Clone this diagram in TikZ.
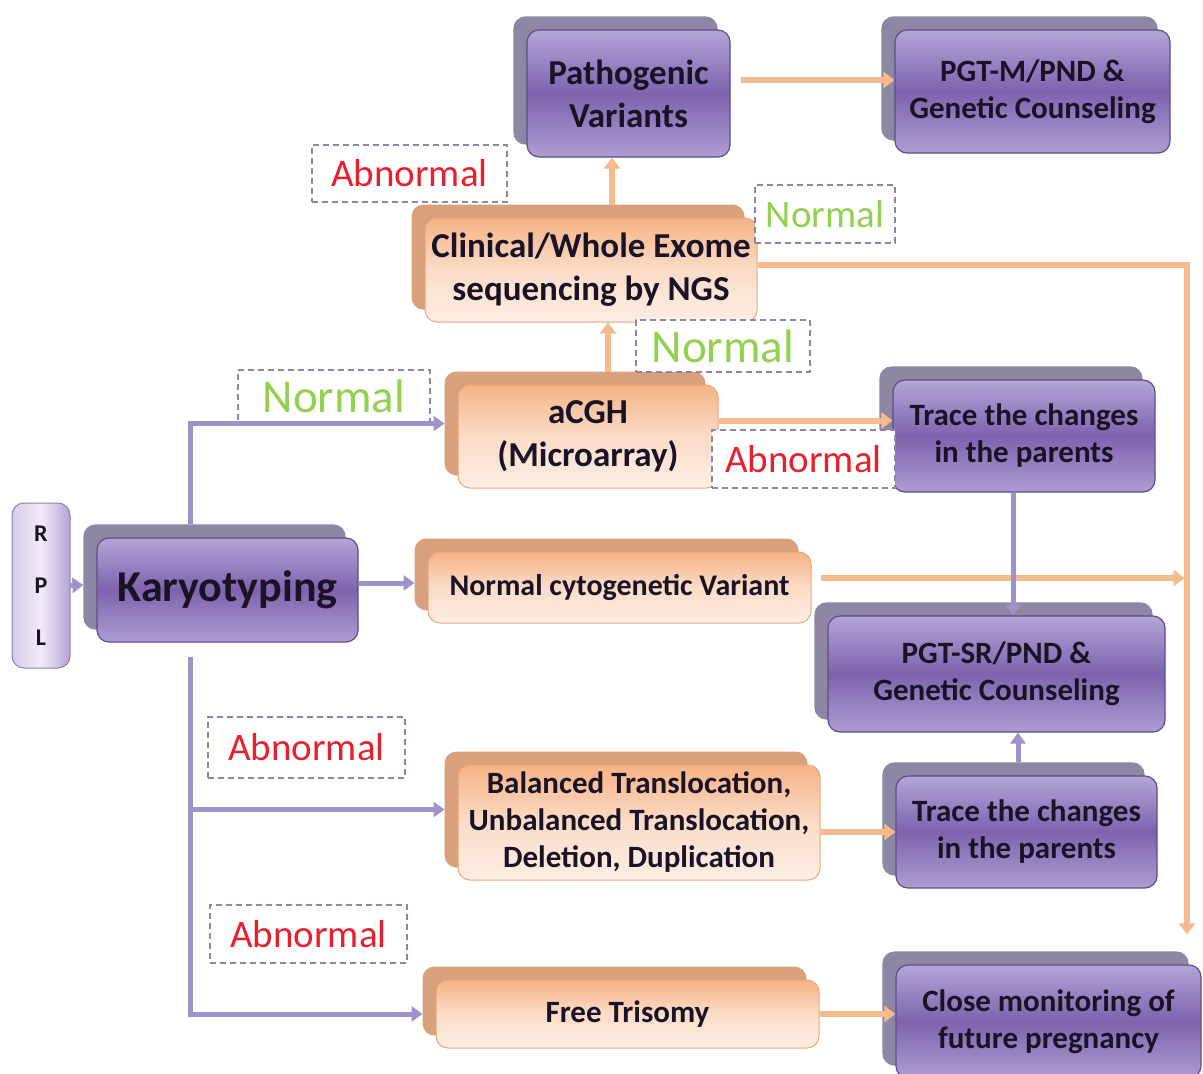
\documentclass[tikz,border=0pt]{standalone}
\usepackage{fontspec}
\setmainfont{Carlito}
\usetikzlibrary{arrows.meta,backgrounds,calc}

\definecolor{ptop}{HTML}{B3A5D8}
\definecolor{pmid}{HTML}{7D63AD}
\definecolor{pbot}{HTML}{AE9DD3}
\definecolor{pborder}{HTML}{5E4D86}
\definecolor{pback}{HTML}{8E87A3}
\definecolor{otop}{HTML}{F5B385}
\definecolor{omid}{HTML}{FBDCC7}
\definecolor{obot}{HTML}{FDEEE4}
\definecolor{oborder}{HTML}{E8A87A}
\definecolor{oback}{HTML}{D8A07B}
\definecolor{pline}{HTML}{9F92C8}
\definecolor{oline}{HTML}{F6BA8C}
\definecolor{abred}{HTML}{E8202E}
\definecolor{nogreen}{HTML}{92D050}
\definecolor{lblcol}{HTML}{8A86A8}
\definecolor{rplleft}{HTML}{D5CBEA}
\definecolor{rplmid}{HTML}{F1EDF8}
\definecolor{rplright}{HTML}{B2A2D6}
\definecolor{boxtext}{HTML}{1A1226}

% back plate behind a box: same size, moved up and left
\newcommand\backplate[2]{%
  \fill[#2, rounded corners=12pt]
    ([shift={(-13,-13)}]#1.south west) rectangle ([shift={(-13,-13)}]#1.north east);}

\begin{document}
\begin{tikzpicture}[x=1pt,y=-1pt,
  box/.style={rounded corners=12pt, inner sep=0pt, align=center, text=boxtext},
  pbox/.style={box, draw=pborder, line width=1.2pt, top color=ptop, bottom color=pbot, middle color=pmid},
  obox/.style={box, draw=oborder, line width=1pt, top color=otop, bottom color=obot, middle color=omid},
  bigtxt/.style={font=\bfseries\fontsize{35}{43}\selectfont},
  midtxt/.style={font=\bfseries\fontsize{31}{37}\selectfont},
  lbl/.style={draw=lblcol, line width=1.3pt, dash pattern=on 6pt off 4pt, fill=white, inner sep=0pt},
  abn/.style={lbl, text=abred, font=\fontsize{39}{44}\selectfont},
  nrm/.style={lbl, text=nogreen},
  parr/.style={draw=pline, line width=5pt, -{Triangle[length=11pt,width=15pt]}},
  oarr/.style={draw=oline, line width=6pt, -{Triangle[length=11pt,width=16pt]}},
]
\clip (0,0) rectangle (1203,1074);

% ---- boxes ----
\node[box, draw=rplright!80!black, line width=1pt, left color=rplleft, right color=rplright, middle color=rplmid,
      minimum width=58pt, minimum height=165pt, font=\bfseries\fontsize{24}{52}\selectfont] (rpl) at (41,585.5) {R\\P\\L};
\node[pbox, minimum width=261pt, minimum height=104pt, font=\bfseries\fontsize{44}{50}\selectfont] (kar) at (227.5,590) {Karyotyping};

\node[pbox, bigtxt, minimum width=203pt, minimum height=127pt] (path) at (628.5,93.5) {Pathogenic\\Variants};
\node[pbox, midtxt, minimum width=275pt, minimum height=123pt] (pgtm) at (1032.5,91.5) {PGT-M/PND \&\\Genetic Counseling};
\node[obox, bigtxt, minimum width=332pt, minimum height=104pt] (wes) at (591,270) {Clinical/Whole Exome\\sequencing by NGS};
\node[obox, bigtxt, minimum width=260pt, minimum height=103pt] (acgh) at (588,436.5) {aCGH\\(Microarray)};
\node[pbox, midtxt, minimum width=262pt, minimum height=112pt] (trace1) at (1024,436) {Trace the changes\\in the parents};
\node[obox, font=\bfseries\fontsize{30}{36}\selectfont, minimum width=383pt, minimum height=71pt] (ncv) at (619.5,587.5) {Normal cytogenetic Variant};
\node[pbox, midtxt, minimum width=337pt, minimum height=116pt] (pgtsr) at (996.5,674) {PGT-SR/PND \&\\Genetic Counseling};
\node[obox, midtxt, minimum width=362pt, minimum height=115pt] (btrans) at (639,822.5) {Balanced Translocation,\\Unbalanced Translocation,\\Deletion, Duplication};
\node[pbox, midtxt, minimum width=261pt, minimum height=112pt] (trace2) at (1026.5,832) {Trace the changes\\in the parents};
\node[obox, midtxt, minimum width=383pt, minimum height=68pt] (ftri) at (627.5,1014) {Free Trisomy};
\node[pbox, midtxt, minimum width=305pt, minimum height=113pt] (close) at (1048.5,1021.5) {Close monitoring of\\future pregnancy};

\begin{pgfonlayer}{background}
  \fill[white] (0,0) rectangle (1203,1074);
  \foreach \b in {kar,path,pgtm,trace1,pgtsr,trace2,close} {\backplate{\b}{pback}}
  \foreach \b in {wes,acgh,ncv,btrans,ftri} {\backplate{\b}{oback}}
\end{pgfonlayer}

% ---- outcome labels ----
\node[abn, minimum width=195pt, minimum height=57pt] (ab1) at (409.5,173.5) {Abnormal};
\node[nrm, font=\fontsize{39}{44}\selectfont, minimum width=140pt, minimum height=58pt] (no1) at (825,214) {Normal};
\node[nrm, font=\fontsize{47}{52}\selectfont, minimum width=174pt, minimum height=52pt] (no2) at (723,346) {Normal};
\node[nrm, font=\fontsize{47}{52}\selectfont, minimum width=192pt, minimum height=52pt] (no3) at (334,396) {Normal};
\node[abn, minimum width=183pt, minimum height=58pt] (ab2) at (803.5,459) {Abnormal};
\node[abn, minimum width=197pt, minimum height=61pt] (ab3) at (306.5,747.5) {Abnormal};
\node[abn, minimum width=197pt, minimum height=58pt] (ab4) at (308.5,934) {Abnormal};

% ---- connectors from Karyotyping ----
\draw[parr] (rpl.east) -- ([shift={(-13,-5)}]kar.west);
\coordinate (ktop) at ([shift={(-37.5,-13)}]kar.north);
\coordinate (kbot) at ([shift={(-37.5,14)}]kar.south);
\draw[parr] (ktop) |- ([shift={(-13,-13)}]acgh.west);
\draw[parr] ([shift={(0,-7)}]kar.east) -- ([shift={(-13,-4.5)}]ncv.west);
\draw[parr] (kbot) |- ([shift={(-13,-13)}]btrans.west);
\draw[parr] (kbot) |- ([shift={(-13,0)}]ftri.west);

% ---- microarray and sequencing ----
\coordinate (a1) at ([shift={(0,-16)}]acgh.east);
\draw[oarr] (a1) -- (a1 -| trace1.west);
\coordinate (a2) at ([shift={(20,-13)}]acgh.north);
\draw[oarr] (a2) -- (a2 |- wes.south);
\coordinate (w1) at ([shift={(21,-13)}]wes.north);
\draw[oarr] (w1) -- (w1 |- path.south);
\coordinate (p1) at ([shift={(10,-13.5)}]path.east);
\draw[oarr] (p1) -- (p1 -| pgtm.west);
\coordinate (w2) at ([shift={(0,-5)}]wes.east);
\coordinate (c1) at ([shift={(138.5,-30)}]close.north);
\draw[oarr] (w2) -| (c1);
\coordinate (n1) at ([shift={(9,-9.5)}]ncv.east);
\coordinate (n2) at ([shift={(136,0)}]n1 -| close.north);
\draw[oarr] (n1) -- (n2);

% ---- parental tracing ----
\coordinate (t1) at ([shift={(-11,0)}]trace1.south);
\draw[parr] (t1) -- (t1 |- pgtsr.north);
\coordinate (t2) at ([shift={(-8.5,-13)}]trace2.north);
\draw[parr] (t2) -- (t2 |- pgtsr.south);
\coordinate (b1) at ([shift={(0,9.5)}]btrans.east);
\draw[oarr] (b1) -- (b1 -| trace2.west);
\draw[oarr] (ftri.east) -- (ftri.east -| close.west);
\end{tikzpicture}
\end{document}
